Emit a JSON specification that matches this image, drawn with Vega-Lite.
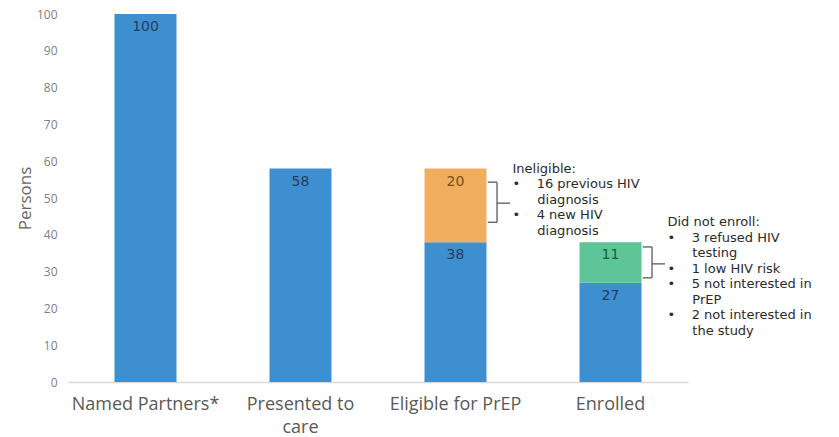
{
  "$schema": "https://vega.github.io/schema/vega-lite/v6.json",
  "width": 620,
  "height": 368,
  "autosize": "none",
  "padding": {"left": 68, "top": 14, "right": 151, "bottom": 55},
  "background": "white",
  "config": {
    "view": {"stroke": null},
    "axis": {"grid": false, "ticks": false},
    "axisY": {"tickCount": 10, "domain": false, "labelFont": "Open Sans", "labelFontSize": 12, "labelColor": "#808080", "labelPadding": 11, "titleFont": "Open Sans", "titleFontSize": 17, "titleFontWeight": "normal", "titleColor": "#666666", "titlePadding": 2}
  },
  "datasets": {
    "bars": [
      {"cat": "Named Partners*", "group": "base", "order": 0, "value": 100},
      {"cat": "Presented to care", "group": "base", "order": 0, "value": 58},
      {"cat": "Eligible for PrEP", "group": "base", "order": 0, "value": 38},
      {"cat": "Eligible for PrEP", "group": "ineligible", "order": 1, "value": 20},
      {"cat": "Enrolled", "group": "base", "order": 0, "value": 27},
      {"cat": "Enrolled", "group": "notenrolled", "order": 1, "value": 11}
    ],
    "braces": [
      {"cat": "Eligible for PrEP", "top": 54.3, "mid": 48.6, "bot": 43.4},
      {"cat": "Enrolled", "top": 36.7, "mid": 32.1, "bot": 28.3}
    ],
    "notes": [
      {"cat": "Eligible for PrEP", "y": 59.6, "lines": ["Ineligible:", "•\u00a0\u00a0\u00a0\u00a016 previous HIV", "\u200b\u00a0\u00a0\u00a0\u00a0\u00a0\u00a0diagnosis", "•\u00a0\u00a0\u00a0\u00a04 new HIV", "\u200b\u00a0\u00a0\u00a0\u00a0\u00a0\u00a0diagnosis"]},
      {"cat": "Enrolled", "y": 45.0, "lines": ["Did not enroll:", "•\u00a0\u00a0\u00a0\u00a03 refused HIV", "\u200b\u00a0\u00a0\u00a0\u00a0\u00a0\u00a0testing", "•\u00a0\u00a0\u00a0\u00a01 low HIV risk", "•\u00a0\u00a0\u00a0\u00a05 not interested in", "\u200b\u00a0\u00a0\u00a0\u00a0\u00a0\u00a0PrEP", "•\u00a0\u00a0\u00a0\u00a02 not interested in", "\u200b\u00a0\u00a0\u00a0\u00a0\u00a0\u00a0the study"]}
    ]
  },
  "resolve": {"scale": {"color": "independent"}},
  "layer": [
    {
      "data": {"name": "bars"},
      "transform": [{"stack": "value", "groupby": ["cat"], "sort": [{"field": "order"}], "as": ["v0", "v1"]}],
      "resolve": {"scale": {"color": "independent"}},
      "layer": [
        {
          "mark": {"type": "bar"},
          "encoding": {
            "x": {"field": "cat", "type": "nominal", "sort": null,
              "scale": {"domain": ["Named Partners*", "Presented to care", "Eligible for PrEP", "Enrolled"], "paddingInner": 0.6, "paddingOuter": 0.3},
              "axis": {"title": null, "labelAngle": 0, "domainColor": "#d9d9d9", "domainWidth": 1.5, "labelFont": "Open Sans", "labelFontSize": 18, "labelColor": "#595959", "labelPadding": 13, "labelLineHeight": 23,
                "labelExpr": "datum.label == 'Presented to care' ? ['Presented to', 'care'] : datum.label"}},
            "y": {"field": "v1", "type": "quantitative",
              "scale": {"domain": [0, 100], "nice": false},
              "axis": {"title": "Persons"}},
            "y2": {"field": "v0"},
            "color": {"field": "group", "type": "nominal", "legend": null,
              "scale": {"domain": ["base", "ineligible", "notenrolled"], "range": ["#3d8fcf", "#f1ae5f", "#5dc597"]}}
          }
        },
        {
          "mark": {"type": "text", "baseline": "top", "dy": 6, "font": "DejaVu Sans", "fontSize": 14},
          "encoding": {
            "x": {"field": "cat", "type": "nominal", "sort": null},
            "y": {"field": "v1", "type": "quantitative"},
            "text": {"field": "value"},
            "color": {"field": "group", "type": "nominal", "legend": null,
              "scale": {"domain": ["base", "ineligible", "notenrolled"], "range": ["#283c5c", "#7a4d1c", "#1d5c3b"]}}
          }
        }
      ]
    },
    {
      "data": {"name": "braces"},
      "layer": [
        {
          "mark": {"type": "rule", "color": "#595959", "strokeWidth": 1.3},
          "encoding": {
            "x": {"field": "cat", "type": "nominal", "sort": null, "bandPosition": 1.02},
            "x2": {"field": "cat", "bandPosition": 1.17},
            "y": {"field": "top", "type": "quantitative"}
          }
        },
        {
          "mark": {"type": "rule", "color": "#595959", "strokeWidth": 1.3},
          "encoding": {
            "x": {"field": "cat", "type": "nominal", "sort": null, "bandPosition": 1.02},
            "x2": {"field": "cat", "bandPosition": 1.17},
            "y": {"field": "bot", "type": "quantitative"}
          }
        },
        {
          "mark": {"type": "rule", "color": "#595959", "strokeWidth": 1.3},
          "encoding": {
            "x": {"field": "cat", "type": "nominal", "sort": null, "bandPosition": 1.17},
            "y": {"field": "top", "type": "quantitative"},
            "y2": {"field": "bot"}
          }
        },
        {
          "mark": {"type": "rule", "color": "#595959", "strokeWidth": 1.3},
          "encoding": {
            "x": {"field": "cat", "type": "nominal", "sort": null, "bandPosition": 1.17},
            "x2": {"field": "cat", "bandPosition": 1.38},
            "y": {"field": "mid", "type": "quantitative"}
          }
        }
      ]
    },
    {
      "data": {"name": "notes"},
      "mark": {"type": "text", "align": "left", "baseline": "top", "dx": 57, "font": "DejaVu Sans", "fontSize": 13, "lineHeight": 15.5, "color": "#2b2b2b"},
      "encoding": {
        "x": {"field": "cat", "type": "nominal", "sort": null},
        "y": {"field": "y", "type": "quantitative"},
        "text": {"field": "lines"}
      }
    }
  ]
}
